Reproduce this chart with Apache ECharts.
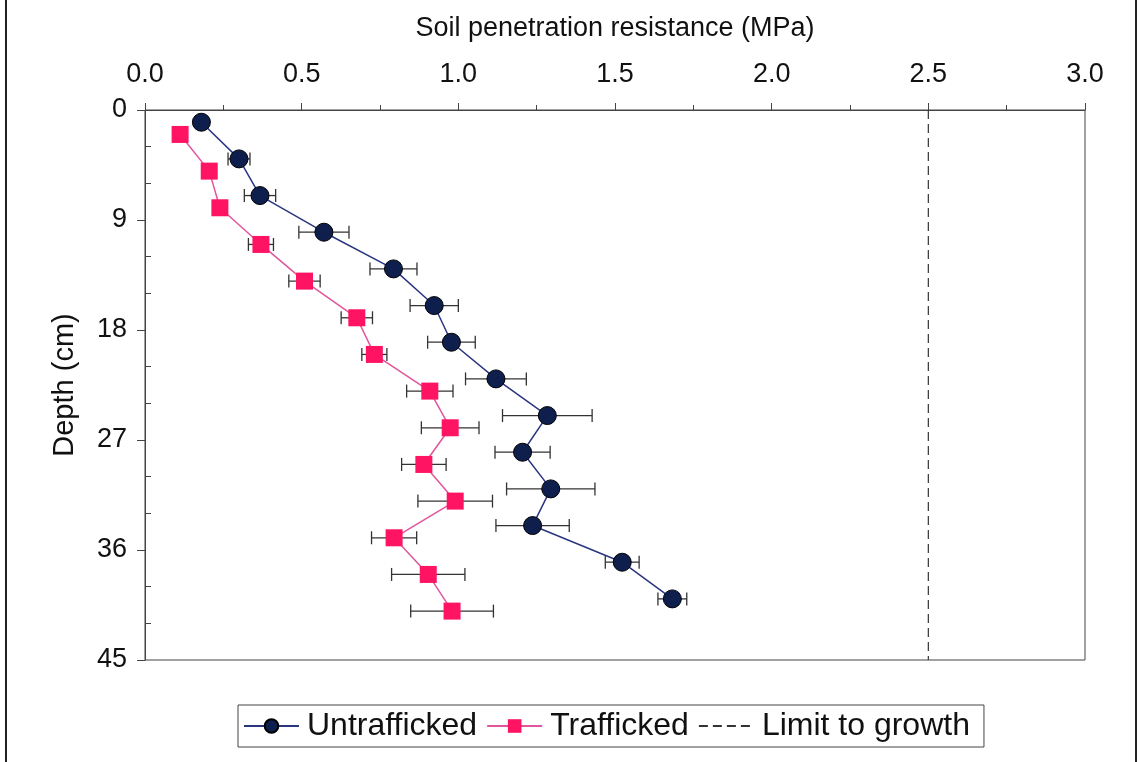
<!DOCTYPE html>
<html><head><meta charset="utf-8">
<script src="https://cdn.jsdelivr.net/npm/echarts@6/dist/echarts.min.js"></script>
<style>html,body{margin:0;padding:0;background:#fff}#c{width:1139px;height:762px}</style>
</head><body><div id="c"></div>
<script>
const untraffickedDepth = [1, 4, 7, 10, 13, 16, 19, 22, 25, 28, 31, 34, 37, 40];
const untraffickedValue = [0.18, 0.30, 0.367, 0.571, 0.793, 0.923, 0.978, 1.12, 1.284, 1.205, 1.295, 1.237, 1.523, 1.683];
const untraffickedError = [0, 0.035, 0.05, 0.08, 0.075, 0.077, 0.076, 0.097, 0.143, 0.088, 0.141, 0.117, 0.054, 0.046];
const traffickedDepth = [2, 5, 8, 11, 14, 17, 20, 23, 26, 29, 32, 35, 38, 41];
const traffickedValue = [0.112, 0.205, 0.239, 0.370, 0.509, 0.676, 0.732, 0.909, 0.974, 0.890, 0.990, 0.795, 0.904, 0.980];
const traffickedError = [0, 0, 0, 0.04, 0.05, 0.05, 0.04, 0.074, 0.092, 0.071, 0.119, 0.072, 0.117, 0.132];
const limitValue = 2.5;
const limitDepth = [0, 45];
const seriesNames = ['Untrafficked', 'Trafficked', 'Limit to growth'];
const xAxisTitle = 'Soil penetration resistance (MPa)';
const yAxisTitle = 'Depth (cm)';

const FONT = '"Liberation Sans", Arial, sans-serif';
const TXT = '#111';

function pts(vals, depths) { return vals.map((v, i) => [v, depths[i]]); }
function errPts(vals, depths, errs) { return vals.map((v, i) => [v, depths[i], errs[i]]); }

function errRender(params, api) {
  const x = api.value(0), y = api.value(1), e = api.value(2);
  if (!e) return null;
  const a = api.coord([x - e, y]);
  const b = api.coord([x + e, y]);
  const h = 6.5;
  const st = { stroke: '#333', lineWidth: 1.3 };
  return {
    type: 'group',
    children: [
      { type: 'line', shape: { x1: a[0], y1: a[1], x2: b[0], y2: b[1] }, style: st },
      { type: 'line', shape: { x1: a[0], y1: a[1] - h, x2: a[0], y2: a[1] + h }, style: st },
      { type: 'line', shape: { x1: b[0], y1: b[1] - h, x2: b[0], y2: b[1] + h }, style: st }
    ]
  };
}

const chart = echarts.init(document.getElementById('c'), null, { renderer: 'canvas' });
chart.setOption({
  animation: false,
  backgroundColor: '#fff',
  textStyle: { fontFamily: FONT },
  grid: { left: 145, right: 54, top: 110, bottom: 102, show: true, borderColor: '#444', borderWidth: 1, backgroundColor: 'transparent' },
  graphic: [{
    type: 'rect', shape: { x: 6, y: -5, width: 1130, height: 775 },
    style: { fill: 'none', stroke: '#222', lineWidth: 2 }, silent: true, z: 100
  }],
  legend: {
    data: seriesNames,
    left: 238, top: 705,
    orient: 'horizontal',
    padding: [5, 14, 5, 5],
    itemGap: 9,
    itemWidth: 55, itemHeight: 17,
    borderColor: '#444', borderWidth: 1, borderRadius: 0,
    textStyle: { fontFamily: FONT, fontSize: 32, color: TXT, padding: [0, 0, 0, 3] }
  },
  xAxis: {
    type: 'value', position: 'top', min: 0, max: 3, interval: 0.5,
    name: xAxisTitle, nameLocation: 'middle', nameGap: 68,
    nameTextStyle: { fontFamily: FONT, fontSize: 27, color: TXT },
    axisLine: { show: true, lineStyle: { color: '#444', width: 1 } },
    axisTick: { show: true, length: 7, lineStyle: { color: '#444' } },
    minorTick: { show: true, splitNumber: 2, length: 5, lineStyle: { color: '#444' } },
    axisLabel: { fontFamily: FONT, fontSize: 27, color: TXT, margin: 22, formatter: v => v.toFixed(1) },
    splitLine: { show: false }
  },
  yAxis: [{
    type: 'value', inverse: true, min: 0, max: 45, interval: 9,
    name: yAxisTitle, nameLocation: 'middle', nameGap: 66, nameRotate: 90,
    nameTextStyle: { fontFamily: FONT, fontSize: 29, color: TXT },
    axisLine: { show: true, lineStyle: { color: '#444', width: 1 } },
    axisTick: { show: true, length: 8, lineStyle: { color: '#444' } },
    axisLabel: { fontFamily: FONT, fontSize: 27, color: TXT, margin: 18 },
    splitLine: { show: false }
  }, {
    type: 'value', inverse: true, min: 0, max: 45, interval: 9, position: 'left',
    axisLine: { show: false },
    axisTick: { show: false, inside: true },
    minorTick: { show: true, splitNumber: 3, length: 6, lineStyle: { color: '#444' } },
    axisLabel: { show: false },
    splitLine: { show: false }
  }],
  series: [
    {
      name: 'Untrafficked errors', type: 'custom', renderItem: errRender,
      data: errPts(untraffickedValue, untraffickedDepth, untraffickedError),
      encode: { x: 0, y: 1 }, z: 1, silent: true
    },
    {
      name: 'Trafficked errors', type: 'custom', renderItem: errRender,
      data: errPts(traffickedValue, traffickedDepth, traffickedError),
      encode: { x: 0, y: 1 }, z: 1, silent: true
    },
    {
      name: 'Untrafficked', type: 'line', data: pts(untraffickedValue, untraffickedDepth),
      symbol: 'circle', symbolSize: 18, z: 3,
      lineStyle: { color: '#2a3680', width: 1.5 },
      itemStyle: { color: '#0f1f4d', borderColor: '#000', borderWidth: 1 }
    },
    {
      name: 'Trafficked', type: 'line', data: pts(traffickedValue, traffickedDepth),
      symbol: 'rect', symbolSize: 17, z: 3,
      lineStyle: { color: '#e0559c', width: 1.5 },
      itemStyle: { color: '#ff1464' }
    },
    {
      name: 'Limit to growth', type: 'line', data: limitDepth.map(d => [limitValue, d]),
      symbol: 'none', z: 2,
      lineStyle: { color: '#333', width: 1.2, type: [9, 5] },
      itemStyle: { color: 'rgba(0,0,0,0)', borderWidth: 0 }
    }
  ]
});
</script>
</body></html>
